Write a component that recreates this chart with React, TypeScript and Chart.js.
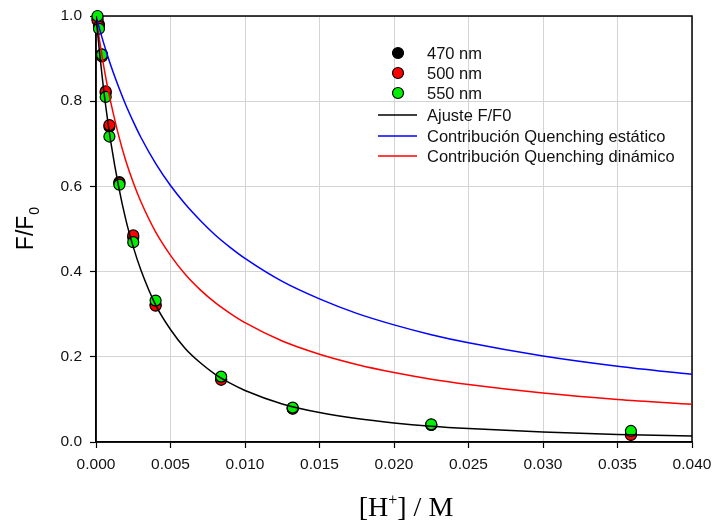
import React, { useEffect, useRef } from "react";
import { Chart, registerables } from "chart.js";

Chart.register(...registerables);

// ---- data ----
const concentrations = [0.0001, 0.0002, 0.0004, 0.00065, 0.0009, 0.00157, 0.0025, 0.004, 0.0084, 0.0132, 0.0225, 0.0359];
const ratio470 = [0.995, 0.98, 0.91, 0.82, 0.74, 0.61, 0.48, 0.322, 0.148, 0.079, 0.040, 0.018];
const ratio500 = [0.99, 0.975, 0.905, 0.823, 0.744, 0.608, 0.485, 0.320, 0.146, 0.078, 0.040, 0.0165];
const ratio550 = [1.0, 0.97, 0.909, 0.810, 0.717, 0.604, 0.469, 0.332, 0.1535, 0.0807, 0.0415, 0.0259];

const curveX = [0, 0.00025, 0.0005, 0.00075, 0.001, 0.0015, 0.002, 0.0025, 0.003, 0.004, 0.005, 0.006, 0.007, 0.008, 0.009, 0.010, 0.0125, 0.015, 0.0175, 0.020, 0.0225, 0.025, 0.030, 0.035, 0.040];
const fitTotal = [1.0, 0.910, 0.831, 0.763, 0.703, 0.603, 0.522, 0.458, 0.405, 0.322, 0.264, 0.219, 0.186, 0.159, 0.138, 0.121, 0.0894, 0.0692, 0.0550, 0.0448, 0.0371, 0.0315, 0.0232, 0.0178, 0.0141];
const fitStatic = [1.0, 0.968, 0.938, 0.910, 0.883, 0.835, 0.791, 0.752, 0.716, 0.654, 0.602, 0.558, 0.520, 0.486, 0.457, 0.431, 0.377, 0.336, 0.302, 0.275, 0.252, 0.233, 0.202, 0.178, 0.159];
const fitDynamic = [1.0, 0.940, 0.886, 0.838, 0.796, 0.722, 0.660, 0.609, 0.565, 0.493, 0.438, 0.393, 0.357, 0.327, 0.302, 0.280, 0.237, 0.206, 0.182, 0.163, 0.1474, 0.135, 0.115, 0.100, 0.0887];

const seriesLabels = ["470 nm", "500 nm", "550 nm", "Ajuste F/F0", "Contribución Quenching estático", "Contribución Quenching dinámico"];
const xRange = [0, 0.04];
const xStep = 0.005;
const yRange = [0, 1];
const yStep = 0.2;
const xTitleParts = ["[H", "+", "] / M"];
const yTitleParts = ["F/F", "0"];

const SANS = "'Liberation Sans', Arial, sans-serif";
const SERIF = "'Liberation Serif', 'Times New Roman', serif";

const pairs = (xs: number[], ys: number[]) => xs.map((x, i) => ({ x, y: ys[i] }));

const decorPlugin = {
  id: "decor",
  beforeDatasetsDraw(chart: any) {
    const { ctx, chartArea: a } = chart;
    ctx.save();
    ctx.strokeStyle = "#000";
    ctx.lineWidth = 1.5;
    ctx.strokeRect(a.left, a.top, a.right - a.left, a.bottom - a.top);
    ctx.restore();
  },
  afterDraw(chart: any) {
    const { ctx, chartArea: a } = chart;
    ctx.save();
    ctx.fillStyle = "#000";
    // x title with superscript
    ctx.textBaseline = "alphabetic";
    const big = `28px ${SERIF}`;
    const small = `16px ${SERIF}`;
    ctx.font = big;
    const w0 = ctx.measureText(xTitleParts[0]).width;
    const w2 = ctx.measureText(xTitleParts[2]).width;
    ctx.font = small;
    const w1 = ctx.measureText(xTitleParts[1]).width;
    const total = w0 + w1 + w2;
    const cx = (a.left + a.right) / 2 + 12;
    const by = 516;
    let x = cx - total / 2;
    ctx.textAlign = "left";
    ctx.font = big;
    ctx.fillText(xTitleParts[0], x, by);
    x += w0;
    ctx.font = small;
    ctx.fillText(xTitleParts[1], x, by - 11);
    x += w1;
    ctx.font = big;
    ctx.fillText(xTitleParts[2], x, by);

    // y title rotated with subscript
    ctx.save();
    const ycenter = (a.top + a.bottom) / 2;
    ctx.translate(33, ycenter);
    ctx.rotate(-Math.PI / 2);
    const yb = `23px ${SANS}`;
    const ys = `14px ${SANS}`;
    ctx.font = yb;
    const t0 = ctx.measureText(yTitleParts[0]).width;
    ctx.font = ys;
    const t1 = ctx.measureText(yTitleParts[1]).width;
    let tx = -(t0 + t1) / 2;
    ctx.font = yb;
    ctx.fillText(yTitleParts[0], tx, 0);
    tx += t0 + 1;
    ctx.font = ys;
    ctx.fillText(yTitleParts[1], tx, 6);
    ctx.restore();

    // legend
    const ds = chart.data.datasets;
    const markerX = a.left + 302;
    const lineX0 = a.left + 282;
    const lineX1 = a.left + 321;
    const textX = a.left + 331;
    const rowYs = [53, 73, 93, 115, 136, 156];
    ctx.font = `16.5px ${SANS}`;
    ctx.textBaseline = "middle";
    ctx.textAlign = "left";
    ds.forEach((d: any, i: number) => {
      const yy = rowYs[i];
      if (d.showLine) {
        ctx.strokeStyle = d.borderColor;
        ctx.lineWidth = 1.5;
        ctx.beginPath();
        ctx.moveTo(lineX0, yy);
        ctx.lineTo(lineX1, yy);
        ctx.stroke();
      } else {
        ctx.beginPath();
        ctx.arc(markerX, yy, 5.5, 0, Math.PI * 2);
        ctx.fillStyle = d.backgroundColor;
        ctx.fill();
        ctx.strokeStyle = "#000";
        ctx.lineWidth = 1.2;
        ctx.stroke();
      }
      ctx.fillStyle = "#111";
      ctx.fillText(d.label, textX, yy + 1);
    });
    ctx.restore();
  },
};

export default function App() {
  const ref = useRef<HTMLCanvasElement | null>(null);
  useEffect(() => {
    if (!ref.current) return;
    const pointDs = (label: string, ys: number[], color: string, order: number) => ({
      label,
      data: pairs(concentrations, ys),
      showLine: false,
      backgroundColor: color,
      borderColor: "#000",
      borderWidth: 1.2,
      pointRadius: 5.5,
      clip: false,
      order,
    });
    const lineDs = (label: string, ys: number[], color: string) => ({
      label,
      data: pairs(curveX, ys),
      showLine: true,
      borderColor: color,
      backgroundColor: color,
      borderWidth: 1.5,
      pointRadius: 0,
      cubicInterpolationMode: "monotone",
      fill: false,
      order: 0,
    });
    const chart = new Chart(ref.current, {
      type: "scatter",
      data: {
        datasets: [
          pointDs(seriesLabels[0], ratio470, "#000000", 3),
          pointDs(seriesLabels[1], ratio500, "#ff0000", 2),
          pointDs(seriesLabels[2], ratio550, "#00ee00", 1),
          lineDs(seriesLabels[3], fitTotal, "#000000"),
          lineDs(seriesLabels[4], fitStatic, "#0000ff"),
          lineDs(seriesLabels[5], fitDynamic, "#ff0000"),
        ] as any,
      },
      options: {
        animation: false,
        responsive: false,
        maintainAspectRatio: false,
        layout: { padding: { top: 16, right: 21, left: 0, bottom: 0 } },
        plugins: { legend: { display: false }, tooltip: { enabled: false } },
        scales: {
          x: {
            type: "linear",
            min: xRange[0],
            max: xRange[1],
            afterFit: (s: any) => { s.height = 82; s.paddingLeft = 0; s.paddingRight = 0; },
            ticks: {
              stepSize: xStep,
              callback: (v: any) => Number(v).toFixed(3),
              font: { family: SANS, size: 15.5 },
              color: "#111",
              padding: 7,
              maxRotation: 0,
            },
            grid: { color: "#d4d4d4", lineWidth: 1, tickLength: 6, tickColor: "#000", tickWidth: 1.2 },
            border: { color: "#000", width: 1.5 },
          },
          y: {
            type: "linear",
            min: yRange[0],
            max: yRange[1],
            afterFit: (s: any) => { s.width = 96; s.paddingTop = 0; s.paddingBottom = 0; },
            ticks: {
              stepSize: yStep,
              callback: (v: any) => Number(v).toFixed(1),
              font: { family: SANS, size: 15.5 },
              color: "#111",
              padding: 8,
            },
            grid: { color: "#d4d4d4", lineWidth: 1, tickLength: 6, tickColor: "#000", tickWidth: 1.2 },
            border: { color: "#000", width: 1.5 },
          },
        },
      },
      plugins: [decorPlugin],
    });
    return () => chart.destroy();
  }, []);
  return (
    <div style={{ position: "fixed", left: 0, top: 0, width: 713, height: 524, background: "#fff" }}>
      <canvas ref={ref} width={713} height={524} style={{ display: "block", width: 713, height: 524 }} />
    </div>
  );
}
